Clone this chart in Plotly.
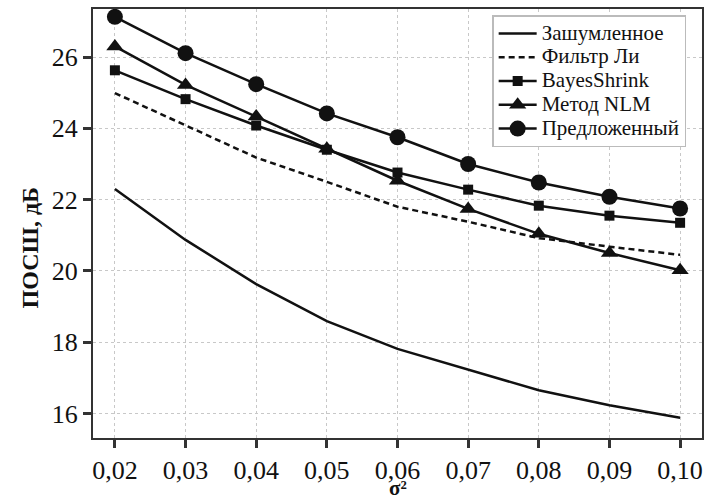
import plotly.graph_objects as go

# Noise variance (x) and PSNR values in dB for each method
sigma2 = [0.02, 0.03, 0.04, 0.05, 0.06, 0.07, 0.08, 0.09, 0.10]
x_tick_labels = ["0,02", "0,03", "0,04", "0,05", "0,06", "0,07", "0,08", "0,09", "0,10"]
y_ticks = [16, 18, 20, 22, 24, 26]

noisy = [22.3, 20.87, 19.63, 18.59, 17.81, 17.22, 16.65, 16.23, 15.88]
lee_filter = [24.99, 24.08, 23.18, 22.5, 21.8, 21.38, 20.92, 20.68, 20.45]
bayes_shrink = [25.63, 24.82, 24.08, 23.4, 22.76, 22.28, 21.83, 21.55, 21.35]
nlm = [26.3, 25.22, 24.33, 23.43, 22.53, 21.74, 21.04, 20.5, 20.02]
proposed = [27.13, 26.11, 25.24, 24.42, 23.75, 23.0, 22.48, 22.08, 21.75]

FONT = "Liberation Serif, Times New Roman, serif"
INK = "#111111"
AXIS = "#333333"


def legend_label(text):
    # Larger glyphs than the legend's row pitch, so rows stay compact
    return f'<span style="font-size:21px">{text}</span>'


fig = go.Figure()

fig.add_trace(go.Scatter(
    x=sigma2, y=noisy, name=legend_label("Зашумленное"), mode="lines",
    line=dict(color=INK, width=2.5),
))
fig.add_trace(go.Scatter(
    x=sigma2, y=lee_filter, name=legend_label("Фильтр Ли"), mode="lines",
    line=dict(color=INK, width=2.5, dash="6px,4px"),
))
fig.add_trace(go.Scatter(
    x=sigma2, y=bayes_shrink, name=legend_label("BayesShrink"), mode="lines+markers",
    line=dict(color=INK, width=2.5),
    marker=dict(symbol="square", size=10, color=INK),
))
fig.add_trace(go.Scatter(
    x=sigma2, y=nlm, name=legend_label("Метод NLM"), mode="lines+markers",
    line=dict(color=INK, width=2.5),
    marker=dict(symbol="triangle-up", size=15, color=INK),
))
fig.add_trace(go.Scatter(
    x=sigma2, y=proposed, name=legend_label("Предложенный"), mode="lines+markers",
    line=dict(color=INK, width=2.5),
    marker=dict(symbol="circle", size=16, color=INK),
))

axis_common = dict(
    showline=True, mirror=True, linecolor=AXIS, linewidth=2,
    ticks="outside", ticklen=8, tickwidth=2.5, tickcolor=AXIS,
    showgrid=True, gridcolor="#c8c8c8", gridwidth=1, griddash="dot",
    zeroline=False, automargin=False,
    tickfont=dict(family=FONT, size=26, color=INK),
)

fig.update_xaxes(
    range=[0.0169, 0.1031],
    tickvals=sigma2, ticktext=x_tick_labels,
    **axis_common,
)
fig.update_yaxes(
    range=[15.31, 27.35],
    tickvals=y_ticks,
    **axis_common,
)

# Axis titles
fig.add_annotation(
    text="<b>σ²</b>", xref="paper", yref="paper",
    x=0.5, y=-0.1475, xanchor="center", yanchor="bottom", showarrow=False,
    borderpad=0,
    font=dict(family=FONT, size=21, color=INK),
)
fig.add_annotation(
    text="<b>ПОСШ, дБ</b>", xref="paper", yref="paper",
    x=-0.103, y=0.4425, xanchor="center", yanchor="middle", showarrow=False,
    textangle=-90,
    font=dict(family=FONT, size=24, color=INK),
)

fig.update_layout(
    width=714, height=502,
    margin=dict(l=93, r=12, t=9, b=64),
    paper_bgcolor="white", plot_bgcolor="white",
    font=dict(family=FONT, color=INK),
    showlegend=True,
    legend=dict(
        x=0.974, y=0.986, xanchor="right", yanchor="top",
        bgcolor="white", bordercolor="#bbbbbb", borderwidth=1.5,
        font=dict(family=FONT, size=16, color=INK),
        itemwidth=38, tracegroupgap=0,
    ),
)

fig.write_html("out.html")
